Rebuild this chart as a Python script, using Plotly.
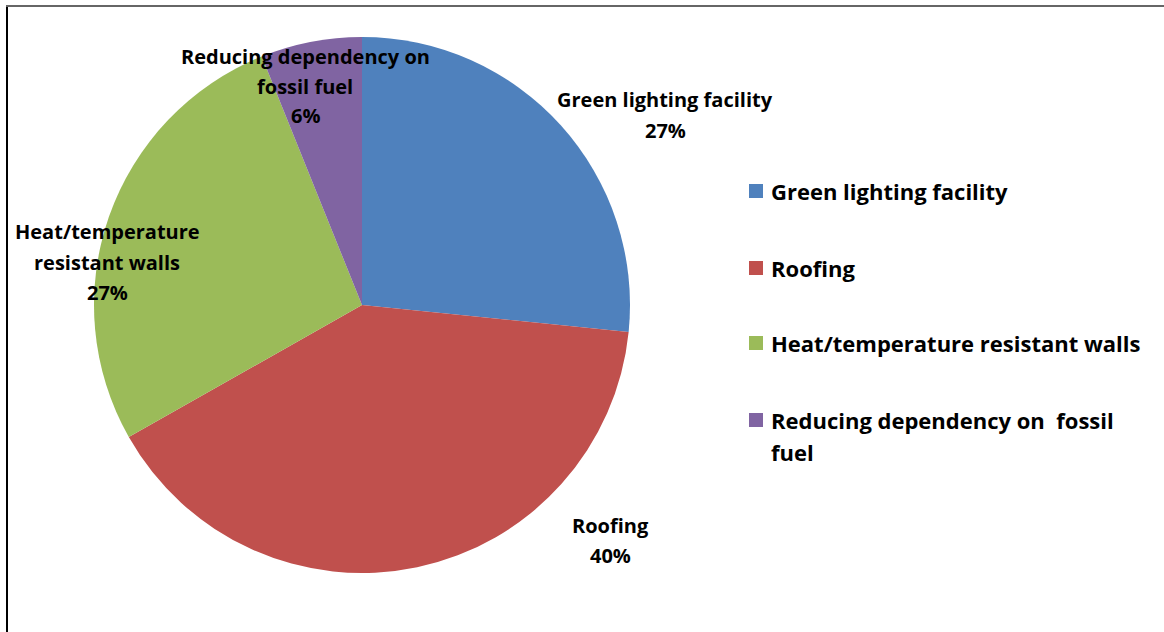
import plotly.graph_objects as go

categories = ["Green lighting facility", "Roofing", "Heat/temperature resistant walls",
              "Reducing dependency on  fossil fuel"]
values = [26.6, 40.2, 27.1, 6.1]
slice_labels = ["Green lighting facility", "Roofing", "Heat/temperature<br>resistant walls",
                "Reducing dependency on<br>fossil fuel"]
legend_labels = ["Green lighting facility", "Roofing", "Heat/temperature resistant walls",
                 "Reducing dependency on  fossil<br>fuel"]
colors = ["#4F81BD", "#C0504D", "#9BBB59", "#8064A2"]

W, H = 1164, 632
FONT = "Open Sans"

def px(x):
    return x / W

def py(y):
    return 1 - y / H

cx, cy, r = 362, 305, 268

fig = go.Figure(go.Pie(
    labels=categories, values=values, sort=False, direction="clockwise", rotation=0,
    marker=dict(colors=colors, line=dict(width=0)), textinfo="none", hoverinfo="label+percent",
    showlegend=False,
    domain=dict(x=[px(cx - r), px(cx + r)], y=[py(cy + r), py(cy - r)]),
))

# data label positions (pixel centers of the label block)
label_pos = [(665, 115), (610, 540), (107, 262), (305, 86)]
LINE = 30
total = sum(values)
annotations = []
for lab, v, (lx, ly) in zip(slice_labels, values, label_pos):
    lines = lab.split("<br>") + [f"{round(100 * v / total)}%"]
    n = len(lines)
    for i, t in enumerate(lines):
        annotations.append(dict(
            x=px(lx), y=py(ly + (i - (n - 1) / 2) * LINE), xref="paper", yref="paper",
            showarrow=False, text=f"<b>{t}</b>",
            font=dict(family=FONT, size=20, color="black"),
            xanchor="center", yanchor="middle"))

# manual legend
legend_y = [191, 268, 343, 420]
LEG_LINE = 32
shapes = []
for lab, col, ly in zip(legend_labels, colors, legend_y):
    shapes.append(dict(type="rect", xref="paper", yref="paper",
                       x0=px(749), x1=px(763), y0=py(ly + 7), y1=py(ly - 7),
                       fillcolor=col, line=dict(width=0)))
    for i, t in enumerate(lab.split("<br>")):
        annotations.append(dict(
            x=px(769), y=py(ly + i * LEG_LINE), xref="paper", yref="paper", showarrow=False,
            text=f"<b>{t}</b>", font=dict(family=FONT, size=22, color="black"),
            xanchor="left", yanchor="middle"))

# frame lines
shapes.append(dict(type="line", xref="paper", yref="paper", x0=px(7), x1=px(7),
                   y0=py(6), y1=0, line=dict(color="black", width=2)))
shapes.append(dict(type="line", xref="paper", yref="paper", x0=px(6), x1=1,
                   y0=py(6), y1=py(6), line=dict(color="#666666", width=2)))

fig.update_layout(
    width=W, height=H, margin=dict(l=0, r=0, t=0, b=0),
    paper_bgcolor="white", plot_bgcolor="white",
    annotations=annotations, shapes=shapes,
    font=dict(family=FONT),
)

fig.write_html("out.html")
